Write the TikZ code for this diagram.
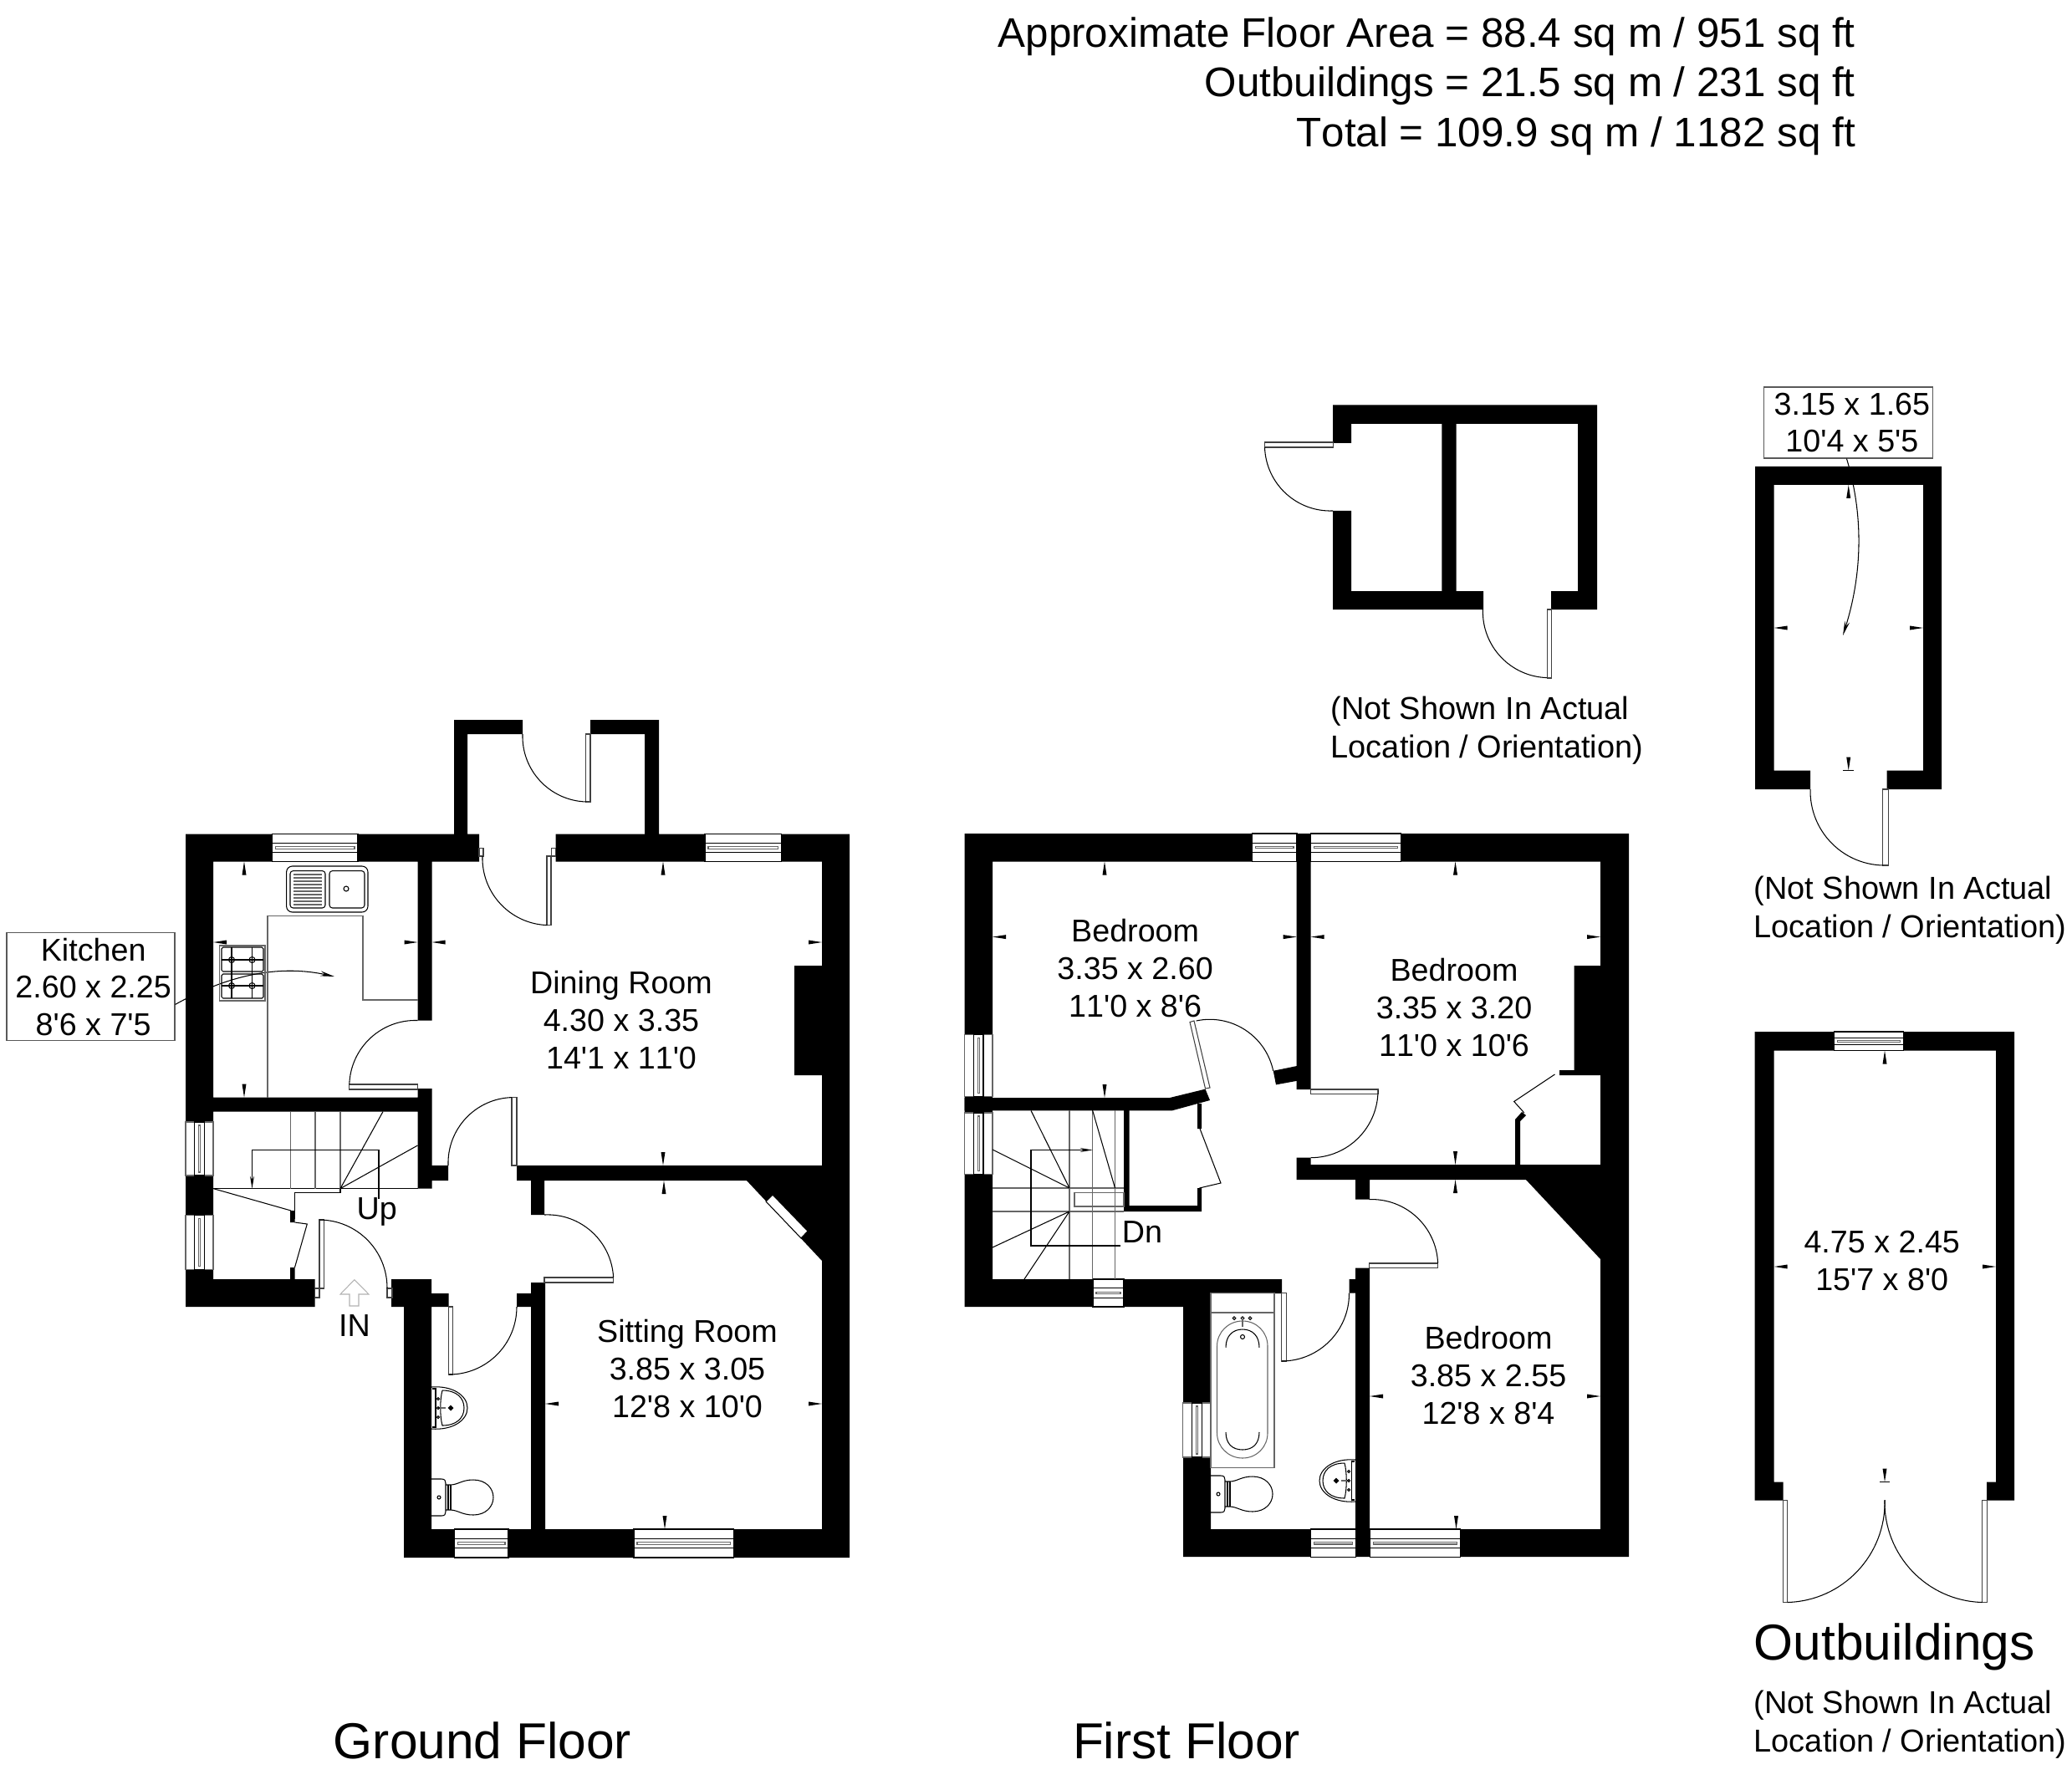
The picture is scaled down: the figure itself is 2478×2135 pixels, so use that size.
\documentclass[tikz,border=0pt]{standalone}
\usepackage{fontspec}
\setmainfont{Liberation Sans}[Ligatures=TeXOff,Kerning=Off]
\usetikzlibrary{arrows.meta}

\newcommand{\hwindow}[4]{%
	\fill[white] (#1,#3) rectangle (#2,#4);
	\draw[fine] (#1,#3) rectangle (#2,#4);
	\pgfmathsetmacro{\ya}{#3+(#4-#3)*0.33}
	\pgfmathsetmacro{\yb}{#3+(#4-#3)*0.67}
	\pgfmathsetmacro{\ym}{(#3+#4)/2}
	\draw[fine] (#1,\ya) rectangle (#2,\yb);
	\draw[greyline] ({#1+4},{\ym-1.2}) rectangle ({#2-4},{\ym+1.2});
}
\newcommand{\vwindow}[4]{%
	\fill[white] (#1,#3) rectangle (#2,#4);
	\draw[greyline] (#1,#3) rectangle (#2,#4);
	\pgfmathsetmacro{\xa}{#1+(#2-#1)*0.33}
	\pgfmathsetmacro{\xb}{#1+(#2-#1)*0.67}
	\pgfmathsetmacro{\xm}{(#1+#2)/2}
	\draw[fine] (\xa,#3) rectangle (\xb,#4);
	\draw[greyline] ({\xm-1.2},{#3+4}) rectangle ({\xm+1.2},{#4-4});
}
\newcommand{\basin}[3]{%
	\begin{scope}[shift={(#1,#2)},xscale=#3]
		\draw[fine] (0,-25) .. controls (25,-27) and (43,-15) .. (43,0) .. controls (43,15) and (25,27) .. (0,25);
		\draw[fine] (13,-21) .. controls (30,-21) and (39,-12) .. (39,0) .. controls (39,12) and (30,21) .. (13,21) .. controls (10,10) and (10,-10) .. (13,-21);
		\draw[fine] (1,-23) -- (5,-23) -- (5,23) -- (1,23);
		\draw[greyline] (8,0) -- (17,0);
		\foreach \yy in {-11,0,11} {\draw[fine] (8,\yy) circle[radius=0.15mm];}
		\draw[thick] (23,0) circle[radius=0.15mm];
	\end{scope}
}
\newcommand{\wc}[2]{%
	\begin{scope}[shift={(#1,#2)}]
		\draw[fine] (0,-22) -- (12,-22) .. controls (16,-22) and (17,-20) .. (17,-17) -- (17,17) .. controls (17,20) and (16,22) .. (12,22) -- (0,22);
		\draw[fine] (9,0) circle[radius=0.2mm];
		\draw[fine] (17,-15) -- (22,-15) .. controls (32,-15) and (36,-21) .. (50,-21) .. controls (65,-21) and (74,-11) .. (74,0) .. controls (74,11) and (65,21) .. (50,21) .. controls (36,21) and (32,15) .. (22,15) -- (17,15);
		\draw[fine] (20,-15) -- (20,15) (23,-15) -- (23,15);
	\end{scope}
}

\begin{document}
\begin{tikzpicture}[x=0.1mm,y=-0.1mm,
	wall/.style={fill=black},
	fine/.style={draw=black,line width=0.3pt},
	greyline/.style={draw=black!60,line width=0.3pt},
	leaf/.style={draw=black!75,fill=white,line width=0.3pt},
	swing/.style={draw=black,line width=0.3pt,bend left=45},
	leader/.style={draw=black,line width=0.3pt,-{Stealth[length=1.7mm,width=0.6mm]}},
	room/.style={align=center,inner sep=0pt,font=\fontsize{10.72}{12.7}\selectfont},
	note/.style={align=left,anchor=west,inner sep=0pt,font=\fontsize{10.8}{13.1}\selectfont},
	floorname/.style={inner sep=0pt,font=\fontsize{17.2}{20}\selectfont},
	areas/.style={align=right,anchor=east,inner sep=0pt,font=\fontsize{14.05}{17}\selectfont},
	sizebox/.style={room,draw=black!65,fill=white,line width=0.3pt}
]
	\useasboundingbox (0,0) rectangle (2478,2135);

	\node[areas] (area) at (2219.5,103) {Approximate Floor Area = 88.4 sq m / 951 sq ft\\Outbuildings = 21.5 sq m / 231 sq ft\\Total = 109.9 sq m / 1182 sq ft};

	\node[sizebox,minimum width=20.1mm,minimum height=12.9mm,text depth=0pt] (kitchenbox) at (108.5,1180) {\hspace{6\pgflinewidth}Kitchen\\\hspace{6\pgflinewidth}2.60 x 2.25\\\hspace{6\pgflinewidth}8'6 x 7'5};
	\node[sizebox,minimum width=20.2mm,minimum height=8.5mm] (shedbox) at (2210.7,505.5) {\hspace{8\pgflinewidth}3.15 x 1.65\\\hspace{8\pgflinewidth}10'4 x 5'5};
	\coordinate (kitchentip) at (400,1168);
	\coordinate (shedtip) at (2204,760);
	\draw[leader] (kitchenbox.-12) .. controls (280,1162) and (340,1155) .. (kitchentip);
	\draw[leader] (shedbox.-93) .. controls (2230,620) and (2226,690) .. (shedtip);

	\fill[wall] (222,997.5) rectangle (573,1030.5) (664.6,997.5) rectangle (1016,1030.5)
		(222,997.5) rectangle (255,1563) (983,997.5) rectangle (1016,1863)
		(222,1530) rectangle (376.6,1563) (255,1312.6) rectangle (499.5,1329.6)
		(499.5,1030) rectangle (516.5,1220.5) (499.5,1302) rectangle (516.5,1421.6)
		(516,1394) rectangle (536,1412)
		(543,861) rectangle (625,878) (706,861) rectangle (788,878)
		(543,861) rectangle (559,1000) (771,861) rectangle (788,1000)
		(618,1394) rectangle (983,1412)
		(950,1155) rectangle (983,1286) (635,1412) rectangle (651,1453)
		(635,1534) rectangle (652,1863) (618,1547) rectangle (635,1563)
		(468,1530) rectangle (516,1563) (483,1563) rectangle (516,1863)
		(516,1547) rectangle (536.6,1563) (483,1829) rectangle (1016,1863)
		(347,1448) rectangle (352.5,1462) (347,1516) rectangle (352.5,1530);
	\fill[wall] (892,1411) -- (983,1508) -- (983,1411) -- cycle;

	\fill[wall] (1153.6,997) rectangle (1948,1030.5) (1153.6,997) rectangle (1187,1563)
		(1914,997) rectangle (1948,1862)
		(1550.7,1000) rectangle (1567.7,1303)
		(1550.7,1384.7) rectangle (1567.7,1411) (1550.7,1393) rectangle (1914,1411)
		(1621,1411) rectangle (1638,1434.6) (1621,1516.7) rectangle (1638,1862)
		(1613.5,1530) rectangle (1621,1546.7) (1153.6,1530) rectangle (1415,1563)
		(1415,1530) rectangle (1533,1547) (1415,1530) rectangle (1448,1862)
		(1415,1829) rectangle (1948,1862)
		(1882.5,1155) rectangle (1914,1280) (1865,1280) rectangle (1914,1286)
		(1812,1339) rectangle (1818,1393)
		(1344,1328) rectangle (1350.5,1449) (1344,1442) rectangle (1437,1449)
		(1432,1421) rectangle (1437,1449) (1432,1320) rectangle (1437,1350);
	\fill[wall] (1153.6,1313) -- (1399,1313) -- (1441.5,1302.6) -- (1447,1316) -- (1401.5,1328.4) -- (1153.6,1328.4) -- cycle;
	\fill[wall] (1522.7,1280.8) -- (1551,1275) -- (1551,1292.8) -- (1526,1297.4) -- cycle;
	\fill[wall] (1824,1410) -- (1914,1506) -- (1914,1410) -- cycle;
	\fill[wall] (1812,1339) -- (1820,1330) -- (1825,1334) -- (1818,1341) -- cycle;

	\fill[wall] (1594,484.5) rectangle (1910,507) (1594,707) rectangle (1774,729)
		(1855,707) rectangle (1910,729) (1594,484.5) rectangle (1616,530)
		(1594,611) rectangle (1616,729) (1887,484.5) rectangle (1910,729)
		(1724.4,484.5) rectangle (1741.6,707);
	\fill[wall] (2099,558) rectangle (2322,580) (2099,558) rectangle (2121.6,944)
		(2300,558) rectangle (2322,944) (2099,921.5) rectangle (2165,944)
		(2256.5,921.5) rectangle (2322,944);
	\fill[wall] (2098.7,1234) rectangle (2409,1256.6) (2098.7,1234) rectangle (2121.7,1794.7)
		(2387,1234) rectangle (2409,1794.7) (2098.7,1772.5) rectangle (2132.7,1794.7)
		(2376,1772.5) rectangle (2409,1794.7);

	\fill[white] (924,1429) -- (966,1472.5) -- (958,1481) -- (916,1437) -- cycle;
	\draw[fine] (924,1429) -- (966,1472.5) -- (958,1481) -- (916,1437) -- cycle;
	\hwindow{325.6}{428}{997.5}{1030.5}
	\hwindow{843}{934.5}{997.5}{1030.5}
	\hwindow{543.6}{608}{1829}{1863}
	\hwindow{758}{877.4}{1829}{1863}
	\vwindow{222}{255}{1342}{1406}
	\vwindow{222}{255}{1453.6}{1518.6}
	\hwindow{1497.5}{1551}{997}{1030.5}
	\hwindow{1567.7}{1675.8}{997}{1030.5}
	\hwindow{1307}{1344}{1530}{1563}
	\hwindow{1567.6}{1621}{1829}{1862.6}
	\hwindow{1638}{1746}{1829}{1862.6}
	\vwindow{1153.6}{1187}{1237.7}{1311.8}
	\vwindow{1153.6}{1187}{1331}{1404.8}
	\vwindow{1414.8}{1448}{1678}{1743}
	\hwindow{2193}{2276}{1234}{1256.6}

	\foreach \xa/\ya/\xb/\yb in {382/1459/387.6/1541, 376.6/1541/382/1552, 463/1541/469/1552,
		700.8/878/706/959, 654/1024/659/1106.6, 659.6/1014.5/664.6/1024, 573/1014.5/578/1024,
		417.8/1297/499.5/1303, 612/1312.6/618/1394, 651/1528/733.6/1534, 536.6/1563/541.8/1644,
		1567.7/1303/1648/1308.3, 1637.4/1511/1719.6/1516.7, 1532.8/1546.7/1538.4/1628,
		1512.5/529/1594.6/535, 1850/729/1855.5/811, 2251.5/944/2258/1035,
		2132.3/1794.7/2137.7/1916.5, 2370.7/1794.7/2376.3/1916.5}
		\draw[leaf] (\xa,\ya) rectangle (\xb,\yb);
	\draw[leaf] (1441.5,1302) -- (1447,1301) -- (1428,1221) -- (1423,1222.5) -- cycle;

	\draw[swing] (700.8,959) to (625,878);
	\draw[swing] (654.7,1106.6) to (577,1024);
	\draw[swing] (417.8,1297) to (499.5,1220.5);
	\draw[swing] (536,1394) to (612,1312.6);
	\draw[swing] (651,1453) to (733.6,1528);
	\draw[swing] (382,1459) to (463,1541);
	\draw[swing] (618,1563) to (537,1644);
	\draw[swing] (1430.6,1221) to (1522.7,1280.8);
	\draw[swing] (1648,1304) to (1567.7,1384.7);
	\draw[swing] (1637.4,1434.6) to (1719.6,1511);
	\draw[swing] (1613.5,1546.7) to (1533,1628);
	\draw[swing] (1594,611) to (1512.5,535);
	\draw[swing] (1850,810.6) to (1773.4,729);
	\draw[swing] (2252,1035) to (2165,944);
	\draw[swing] (2254,1794) to (2137.7,1916.5);
	\draw[swing] (2370.7,1916.5) to (2254,1794);

	\foreach \x/\y/\dx/\dy in {292/1030.5/0/1, 292/1312.6/0/-1, 255/1127/1/0, 499.5/1127/-1/0,
		516.5/1127/1/0, 983/1127/-1/0, 793/1030.5/0/1, 793/1394/0/-1,
		794/1412/0/1, 652/1679/1/0, 983/1679/-1/0, 795/1829/0/-1,
		1321/1030.5/0/1, 1321/1313/0/-1, 1187/1120.6/1/0, 1550.7/1120.6/-1/0,
		1740.5/1030.5/0/1, 1567.7/1120.6/1/0, 1914/1120.6/-1/0, 1740.5/1393/0/-1,
		1740.5/1411/0/1, 1638/1670/1/0, 1914/1670/-1/0, 1741.5/1829/0/-1,
		2121.6/751/1/0, 2300/751/-1/0, 2210.7/580/0/1, 2210.7/921.5/0/-1,
		2254/1256.6/0/1, 2121.7/1515/1/0, 2387/1515/-1/0, 2254/1772.5/0/-1}
		\fill ({\x},{\y}) -- ({\x+16*\dx+2.5*\dy},{\y+16*\dy+2.5*\dx}) -- ({\x+16*\dx-2.5*\dy},{\y+16*\dy-2.5*\dx}) -- cycle;
	\draw[fine] (2204,921.5) -- (2217,921.5) (2248,1772.5) -- (2260,1772.5);

	% kitchen units and hob
	\draw[greyline] (320,1312.6) -- (320,1095.4) -- (434,1095.4) -- (434,1196) -- (500,1196);
	\draw[fine,rounded corners=2pt] (342.6,1036) rectangle (440,1091);
	\draw[fine,rounded corners=1pt] (347,1041.6) rectangle (389,1086) (394,1041.6) rectangle (436,1086);
	\foreach \yy in {1046,1050,...,1082} {\draw[greyline] (351,\yy) -- (385,\yy);}
	\draw[fine] (414,1063) circle[radius=0.3mm];
	\draw[greyline] (262.5,1131) rectangle (317,1197);
	\draw[fine,rounded corners=0.5pt] (265,1133) rectangle (315,1162) (265,1165) rectangle (315,1194);
	\foreach \xx in {277,301.5} {\draw[fine] (\xx,1133) -- (\xx,1194);
		\foreach \yy in {1148,1179} {\draw[fine] (\xx,\yy) circle[radius=0.35mm];}}
	\draw[fine] (265,1148) -- (315,1148) (265,1179) -- (315,1179);

	% stairs, ground floor
	\draw[fine] (255,1421.6) -- (499.5,1421.6);
	\foreach \xx in {347.5,377,407} {\draw[greyline] (\xx,1329.6) -- (\xx,1421.6);}
	\draw[fine] (255,1421.6) -- (348,1448) (407,1421.6) -- (458,1329.6) (407,1421.6) -- (499.5,1370);
	\draw[fine] (407,1421.6) -- (407,1426.5) -- (352.5,1426.5) -- (352.5,1458);
	\draw[fine] (352.5,1462) -- (367.3,1464) -- (352.5,1516);
	\coordinate (upstart) at (453,1434);
	\coordinate (upend) at (301.5,1421.6);
	\draw[leader,-{Stealth[length=1.5mm,width=0.5mm]}] (upstart) -- (453,1375.6) -- (301.5,1375.6) -- (upend);

	% stairs, first floor
	\foreach \xx in {1279,1306.6,1333.5} {\draw[greyline] (\xx,1328.4) -- (\xx,1530);}
	\draw[greyline] (1187,1421) -- (1344,1421) (1187,1449) -- (1344,1449);
	\draw[fine] (1279,1421) -- (1233,1328.4) (1279,1421) -- (1187,1375) (1279,1449) -- (1187,1492)
		(1279,1449) -- (1225,1530) (1306.6,1328) -- (1333.5,1421);
	\draw[greyline] (1285,1426.6) rectangle (1344,1443);
	\coordinate (dnend) at (1306.6,1375.5);
	\draw[leader,-{Stealth[length=1.5mm,width=0.5mm]}] (1340,1490) -- (1233,1490) -- (1233,1375.5) -- (dnend);
	\draw[fine] (1859.5,1285) -- (1810.7,1317.5) -- (1822.8,1331);
	\draw[fine] (1435,1350) -- (1460,1415) -- (1434.4,1421);

	% bathroom
	\draw[greyline] (1448,1546.7) rectangle (1524,1755.7) (1448,1570) -- (1524,1570);
	\draw[greyline] (1455.5,1610) .. controls (1455.5,1593.5) and (1469,1580) .. (1486,1580) .. controls (1503,1580) and (1516,1593.5) .. (1516,1610) -- (1516,1714) .. controls (1516,1730.5) and (1503,1744) .. (1486,1744) .. controls (1469,1744) and (1455.5,1730.5) .. (1455.5,1714) -- cycle;
	\draw[fine] (1466,1611.7) .. controls (1466,1598) and (1474,1590) .. (1486,1590) .. controls (1498,1590) and (1506,1598) .. (1506,1611.7);
	\draw[fine] (1466,1713) .. controls (1466,1727) and (1474,1734) .. (1486,1734) .. controls (1498,1734) and (1506,1727) .. (1506,1713);
	\foreach \xx in {1476,1486,1495} {\draw[fine] (\xx,1576.7) circle[radius=0.18mm];}
	\draw[fine] (1486,1599) circle[radius=0.25mm];
	\draw[greyline] (1486,1577) -- (1486,1587);
	\basin{1621}{1771}{-1}
	\wc{1448}{1787}
	\basin{516}{1684}{1}
	\wc{516}{1791}

	\draw[draw=black!30,line width=0.3pt] (423.8,1530.7) -- (441,1548) -- (429,1548) -- (429,1562) -- (418,1562) -- (418,1548) -- (407,1548) -- cycle;

	\node[room] (dining) at (743,1220) {Dining Room\\4.30 x 3.35\\14'1 x 11'0};
	\node[room] (sitting) at (822,1637) {Sitting Room\\3.85 x 3.05\\12'8 x 10'0};
	\node[room] (bedone) at (1357.6,1158) {Bedroom\\3.35 x 2.60\\11'0 x 8'6};
	\node[room] (bedtwo) at (1739,1205) {Bedroom\\3.35 x 3.20\\11'0 x 10'6};
	\node[room] (bedthree) at (1780,1645) {Bedroom\\3.85 x 2.55\\12'8 x 8'4};
	\node[room] (workshop) at (2250.7,1508) {4.75 x 2.45\\15'7 x 8'0};
	\node[room] (up) at (450.7,1449) {Up};
	\node[room] (dn) at (1366,1474) {Dn};
	\node[room] (in) at (424,1586) {IN};

	\node[note] (notea) at (1591,874) {(Not Shown In Actual\\Location / Orientation)};
	\node[note] (noteb) at (2097,1089) {(Not Shown In Actual\\Location / Orientation)};
	\node[note] (notec) at (2097,2063) {(Not Shown In Actual\\Location / Orientation)};

	\node[floorname] (ground) at (577,2082) {Ground Floor};
	\node[floorname] (first) at (1419,2082) {First Floor};
	\node[floorname,anchor=west] (outbuildings) at (2097,1970) {Outbuildings};
\end{tikzpicture}
\end{document}
